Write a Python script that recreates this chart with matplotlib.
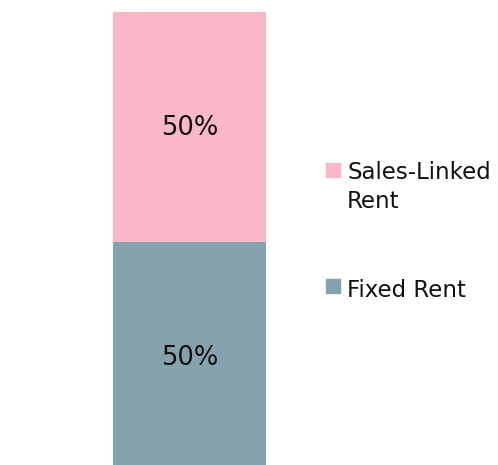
import matplotlib
matplotlib.use("Agg")
import matplotlib.pyplot as plt
from matplotlib.patches import Rectangle

W, H = 498, 465  # figure size in pixels

categories = ["Rent"]
labels = ["Fixed Rent", "Sales-Linked\nRent"]
shares = [50, 50]  # percent, bottom to top
colors = ["#87A2AF", "#F9B7C8"]

fig = plt.figure(figsize=(W / 100, H / 100), dpi=100)
# bar runs slightly past the lower edge of the canvas
ax = fig.add_axes([113 / W, -7 / H, 153 / W, 460 / H])

bottom = 0
for val, col in zip(shares, colors):
    ax.bar(categories, [val], bottom=bottom, width=1.0, color=col)
    ax.annotate(f"{val}%", (0, bottom + val / 2), xytext=(0, -1),
                textcoords="offset points", ha="center", va="center",
                fontsize=18.5, color="#111111")
    bottom += val

ax.set_xlim(-0.5, 0.5)
ax.set_ylim(0, sum(shares))
ax.axis("off")

# legend drawn by hand: square swatch + label lines, top item first
legend_rows = [(labels[1], colors[1], 163, 179), (labels[0], colors[0], 279, 297)]
for text, col, sq_top, baseline in legend_rows:
    fig.patches.append(Rectangle((326 / W, 1 - (sq_top + 14) / H), 14 / W, 14 / H,
                                 transform=fig.transFigure, color=col))
    for i, line in enumerate(text.split("\n")):
        fig.text(347 / W, 1 - (baseline + 29 * i) / H, line, fontsize=16.5,
                 va="baseline", ha="left", color="#111111")

fig.savefig("out.png", dpi=100)
